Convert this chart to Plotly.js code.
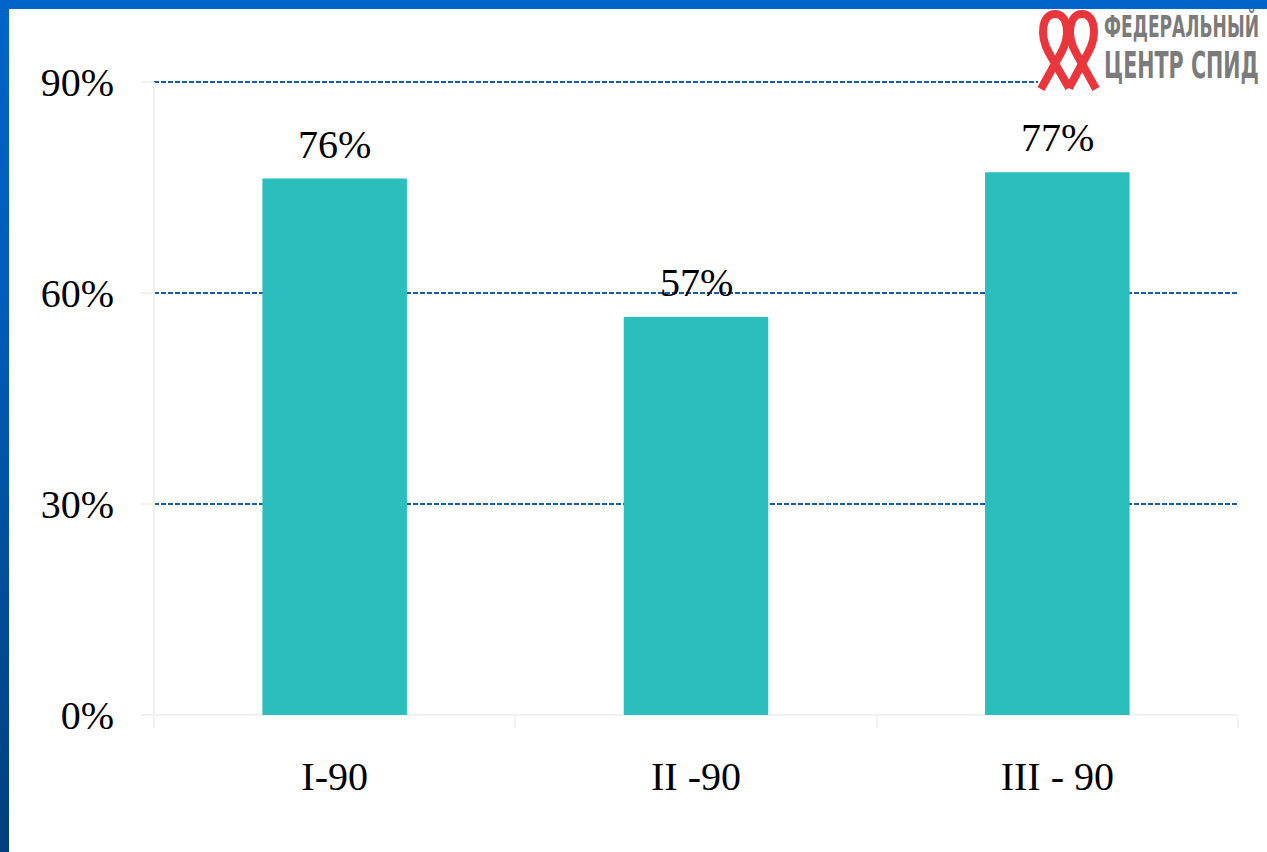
<!DOCTYPE html>
<html>
<head>
<meta charset="utf-8">
<script src="https://cdn.plot.ly/plotly-3.0.1.min.js"></script>
<style>
  html, body { margin: 0; padding: 0; width: 1267px; height: 852px; overflow: hidden; background: #ffffff; }
  #chart { position: absolute; left: 0; top: 0; width: 1267px; height: 852px; }
  #topbar { position: absolute; left: 0; top: 0; width: 1267px; height: 9px; background: #0064c8; }
  #leftbar { position: absolute; left: 0; top: 0; width: 9px; height: 852px; background: linear-gradient(to bottom, #0064c8 0%, #005cbb 35%, #004a94 75%, #003f7c 100%); }
  #logo { position: absolute; left: 1030px; top: 9px; width: 237px; height: 86px; }
</style>
</head>
<body>
<div id="chart"></div>
<div id="topbar"></div>
<div id="leftbar"></div>
<svg id="logo" width="237" height="86" viewBox="0 0 237 86">
  <rect x="8" y="0" width="229" height="86" fill="#ffffff"/>
  <g fill="none" stroke="#e8363c" stroke-width="8" stroke-linejoin="round">
    <path d="M 11 80 L 31 44 C 41 26 38 5 25 5 C 12 5 9 26 19 44 L 39 79"/>
    <path d="M 39 79 L 58 44 C 68 26 65 5 52 5 C 39 5 36 26 46 44 L 66 80"/>
  </g>
  <g id="l1" transform="translate(74,28)">
    <text x="0" y="0" font-family="DejaVu Sans Condensed, DejaVu Sans, sans-serif" font-weight="bold" font-size="30" fill="#7b7b7b">ФЕДЕРАЛЬНЫЙ</text>
  </g>
  <g id="l2" transform="translate(74,69)">
    <text x="0" y="0" font-family="DejaVu Sans Condensed, DejaVu Sans, sans-serif" font-weight="bold" font-size="38" fill="#7b7b7b">ЦЕНТР СПИД</text>
  </g>
</svg>
<script>
const categories = ["I-90", "II -90", "III - 90"];
const values = [76.3, 56.6, 77.2];
const valueLabels = ["76%", "57%", "77%"];
const tickVals = [0, 30, 60, 90];
const tickText = ["0%", "30%", "60%", "90%"];

const serif = "Liberation Serif";

// squeeze logo text to a condensed look that fits within the page
["l1", "l2"].forEach((id, k) => {
  const g = document.getElementById(id);
  const t = g.querySelector("text");
  const w = t.getComputedTextLength();
  const sx = 155 / w;
  g.setAttribute("transform", "translate(74," + (k === 0 ? 28 : 69) + ") scale(" + sx + ",1)");
});

const trace = {
  type: "bar",
  x: categories,
  y: values,
  width: 0.4,
  marker: { color: "#2abfbd" },
  hoverinfo: "none"
};

const annotations = categories.map((c, i) => ({
  x: c, y: values[i], xref: "x", yref: "y",
  text: valueLabels[i], showarrow: false,
  yanchor: "bottom", yshift: 10,
  font: { family: serif, size: 40, color: "#000000" }
}));

const layout = {
  width: 1267, height: 852,
  margin: { l: 154, r: 29, t: 78, b: 137 },
  paper_bgcolor: "#ffffff",
  plot_bgcolor: "#ffffff",
  showlegend: false,
  font: { family: serif, size: 40, color: "#000000" },
  xaxis: {
    type: "category",
    showgrid: false,
    ticks: "outside", tickson: "boundaries", ticklen: 12, tickwidth: 2, tickcolor: "#f2f2f2",
    ticklabelstandoff: 34,
    showline: false,
    tickfont: { family: serif, size: 40, color: "#000000" }
  },
  yaxis: {
    range: [0, 90.6],
    tickvals: tickVals, ticktext: tickText,
    showgrid: true, gridcolor: "#1a5ca8", gridwidth: 1.5, griddash: "5px,2px",
    zeroline: true, zerolinecolor: "#f2f2f2", zerolinewidth: 2,
    showline: false,
    ticks: "outside", ticklen: 12, tickwidth: 2, tickcolor: "#f2f2f2",
    ticklabelstandoff: 19,
    tickfont: { family: serif, size: 40, color: "#000000" }
  },
  shapes: [{
    type: "line", xref: "paper", yref: "y", x0: 0, x1: 0, y0: 0, y1: tickVals[tickVals.length - 1],
    line: { color: "#f2f2f2", width: 2 }
  }],
  annotations: annotations
};

Plotly.newPlot("chart", [trace], layout, { displayModeBar: false, staticPlot: true });
</script>
</body>
</html>
